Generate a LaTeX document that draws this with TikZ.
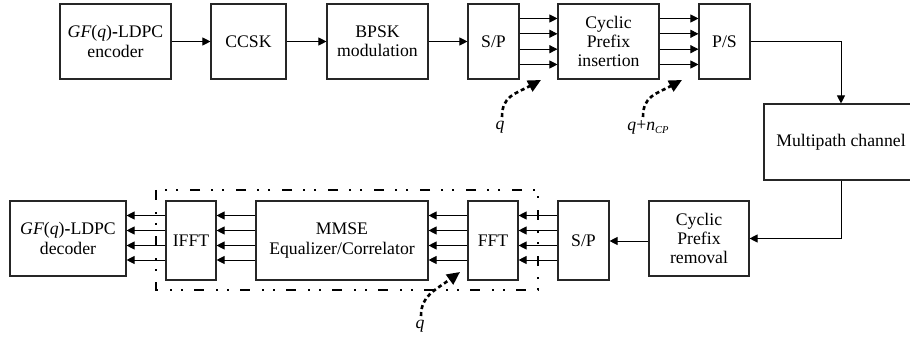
\documentclass[tikz,border=0pt]{standalone}
\usepackage{fontspec}
\setmainfont{Liberation Serif}
\usetikzlibrary{arrows.meta,calc}
\begin{document}
\begin{tikzpicture}[x=1pt,y=-1pt,
  txt/.style={font=\fontsize{17.7}{19.3}\selectfont},
  box/.style={txt,draw=black!85,line width=1.1pt,inner sep=0pt,align=center},
  arr/.style={line width=0.9pt,-{Triangle[length=8pt,width=8pt]}},
  hint/.style={line width=2.6pt,dash pattern=on 4pt off 3pt,-{Triangle[length=13pt,width=12pt]}},
  group/.style={line width=2.4pt,dash pattern=on 10pt off 12pt on 2pt off 9pt on 2pt off 11pt}]
\useasboundingbox (0,0) rectangle (910,339);
\clip (0,0) rectangle (910,339);

% transmitter chain
\node[box,minimum width=111pt,minimum height=75pt] (enc) at (115.5,41.5) {\textit{GF}(\textit{q}){\bfseries -}LDPC\\encoder};
\node[box,minimum width=75pt,minimum height=75pt] (ccsk) at (248.5,41.5) {CCSK};
\node[box,minimum width=101pt,minimum height=75pt] (bpsk) at (377.5,41.5) {BPSK\\modulation};
\node[box,minimum width=51pt,minimum height=75pt] (sp1) at (493.5,41.5) {S/P};
\node[box,minimum width=101pt,minimum height=75pt] (cpi) at (608.5,41.5) {Cyclic\\Prefix\\insertion};
\node[box,minimum width=51pt,minimum height=75pt] (ps) at (724.5,41.5) {P/S};

% channel
\node[box,minimum width=154pt,minimum height=76pt] (mp) at (841,142) {Multipath channel};

% receiver chain
\node[box,minimum width=100pt,minimum height=75pt] (cpr) at (699,238.5) {Cyclic\\Prefix\\removal};
\node[box,minimum width=51pt,minimum height=79pt] (sp2) at (583.5,240.5) {S/P};
\node[box,minimum width=50pt,minimum height=79pt] (fft) at (493,240.5) {FFT};
\node[box,minimum width=172pt,minimum height=79pt] (mmse) at (342,240.5) {MMSE\\Equalizer/Correlator};
\node[box,minimum width=50pt,minimum height=79pt] (ifft) at (191,240.5) {IFFT};
\node[box,minimum width=116pt,minimum height=75pt] (dec) at (68,238.5) {\textit{GF}(\textit{q}){\bfseries -}LDPC\\decoder};

% serial links
\draw[arr] (enc.east) -- (ccsk.west);
\draw[arr] (ccsk.east) -- (bpsk.west);
\draw[arr] (bpsk.east) -- (sp1.west);
\draw[arr] (ps.east) -- (ps.east -| mp.north) -- (mp.north);
\draw[arr] (mp.south) |- (cpr.east);
\draw[arr] ([yshift=-2.5pt]cpr.west) -- ([yshift=-2.5pt]cpr.west -| sp2.east);

% parallel links
\foreach \o in {23,7.7,-7.7,-23}{
  \draw[arr] ([yshift=\o pt]sp1.east) -- ([yshift=\o pt]cpi.west);
  \draw[arr] ([yshift=\o pt]cpi.east) -- ([yshift=\o pt]ps.west);
}
\foreach \o in {25,10,-5,-19.5}{
  \draw[arr] ([yshift=\o pt]sp2.west) -- ([yshift=\o pt]fft.east);
  \draw[arr] ([yshift=\o pt]fft.west) -- ([yshift=\o pt]mmse.east);
  \draw[arr] ([yshift=\o pt]mmse.west) -- ([yshift=\o pt]ifft.east);
  \draw[arr] ([yshift=\o pt]ifft.west) -- ([yshift=\o pt]ifft.west -| dec.east);
}

% block size annotations
\node[txt,inner sep=0pt] (q1) at (500,127.5) {\textit{q}};
\node[txt,inner sep=0pt] (q2) at (648,127.5) {\textit{q}+\textit{n}{\fontsize{10.5}{10.5}\selectfont\raisebox{-3pt}{\textit{CP}}}};
\node[txt,inner sep=0pt] (q3) at (420,326.5) {\textit{q}};
\coordinate (h1s) at (502,117); \coordinate (h1t) at (541,80);
\coordinate (h2s) at (643,117); \coordinate (h2t) at (682,80);
\coordinate (h3s) at (421,316); \coordinate (h3t) at (460,272);
\draw[hint] (h1s) .. controls (502,96) and (515,94) .. (h1t);
\draw[hint] (h2s) .. controls (643,96) and (656,94) .. (h2t);
\draw[hint] (h3s) .. controls (421,296) and (434,291) .. (h3t);

% OFDM demodulation group
\draw[group] (156,190) rectangle (538,290);
\end{tikzpicture}
\end{document}
